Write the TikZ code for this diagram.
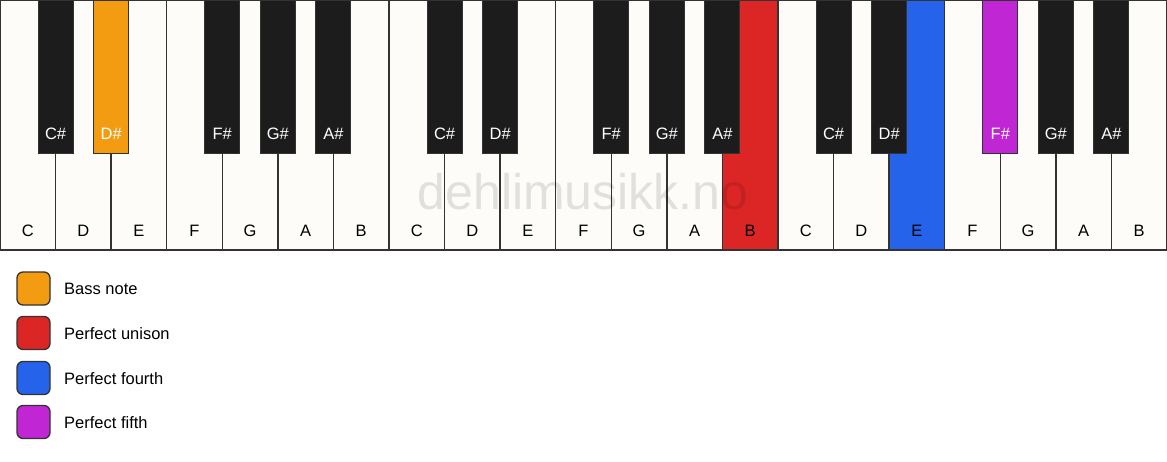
\documentclass[tikz,border=0pt]{standalone}
\usepackage{fontspec}
\setmainfont{Liberation Sans}
\definecolor{ivory}{HTML}{FDFCF9}
\definecolor{keyblack}{HTML}{1C1C1C}
\definecolor{edge}{HTML}{333333}
\definecolor{cbass}{HTML}{F39C12}
\definecolor{cunison}{HTML}{DC2626}
\definecolor{cfourth}{HTML}{2563EB}
\definecolor{cfifth}{HTML}{C026D3}
\tikzset{
  whitekey/.style={draw=edge, line width=1.4pt, fill=ivory, minimum width=55.57pt, minimum height=250pt, anchor=north west, inner sep=0pt, outer sep=0pt},
  blackkey/.style={draw=edge, line width=1pt, fill=keyblack, minimum width=35pt, minimum height=153pt, anchor=north, inner sep=0pt, outer sep=0pt},
  wlabel/.style={font=\fontsize{16.5}{16.5}\selectfont, text=black, anchor=base, inner sep=0pt},
  blabel/.style={font=\fontsize{16.5}{16.5}\selectfont, text=white, anchor=base, inner sep=0pt},
  legbox/.style={draw=edge, line width=1.3pt, rounded corners=6pt, minimum width=33pt, minimum height=33pt, inner sep=0pt, anchor=center},
  legtext/.style={font=\fontsize{16.5}{16.5}\selectfont, anchor=base west, inner sep=0pt},
}
\begin{document}
\begin{tikzpicture}[x=1pt,y=-1pt]
\useasboundingbox (0,0) rectangle (1167,461);
\fill[white] (0,0) rectangle (1167,461);
\def\w{55.5714}
% white keys
\foreach \i/\n/\c in {0/C/ivory,1/D/ivory,2/E/ivory,3/F/ivory,4/G/ivory,5/A/ivory,6/B/ivory,
  7/C/ivory,8/D/ivory,9/E/ivory,10/F/ivory,11/G/ivory,12/A/ivory,13/B/cunison,
  14/C/ivory,15/D/ivory,16/E/cfourth,17/F/ivory,18/G/ivory,19/A/ivory,20/B/ivory}{
  \node[whitekey, fill=\c] (w\i) at (\i*\w,0) {};
  \node[wlabel] (wl\i) at (\i*\w+\w/2,236) {\n};
}
% watermark
\node[font=\fontsize{50}{50}\selectfont, text=black, opacity=0.11, anchor=base] (wm) at (583,209) {dehlimusikk.no};
% black keys
\foreach \b/\n/\c in {1/C\#/keyblack,2/D\#/cbass,4/F\#/keyblack,5/G\#/keyblack,6/A\#/keyblack,
  8/C\#/keyblack,9/D\#/keyblack,11/F\#/keyblack,12/G\#/keyblack,13/A\#/keyblack,
  15/C\#/keyblack,16/D\#/keyblack,18/F\#/cfifth,19/G\#/keyblack,20/A\#/keyblack}{
  \node[blackkey, fill=\c] (b\b) at (\b*\w,0) {};
  \node[blabel] (bl\b) at (\b*\w,139.5) {\n};
}
% legend
\node[legbox, fill=cbass] (l1) at (33.5,288.5) {};
\node[legtext] (t1) at (64,294.5) {Bass note};
\node[legbox, fill=cunison] (l2) at (33.5,333) {};
\node[legtext] (t2) at (64,339) {Perfect unison};
\node[legbox, fill=cfourth] (l3) at (33.5,378) {};
\node[legtext] (t3) at (64,384) {Perfect fourth};
\node[legbox, fill=cfifth] (l4) at (33.5,422) {};
\node[legtext] (t4) at (64,428) {Perfect fifth};
\end{tikzpicture}
\end{document}
